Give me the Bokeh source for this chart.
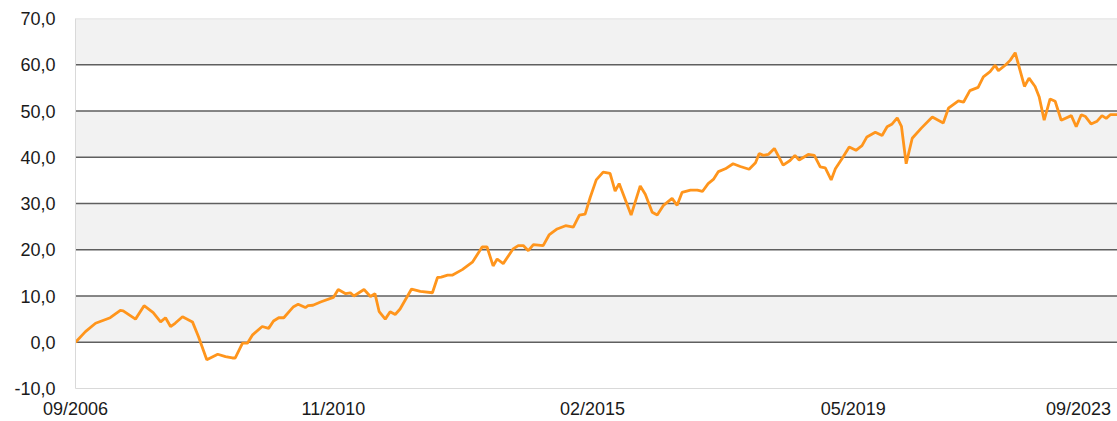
import pandas as pd
from bokeh.plotting import figure
from bokeh.models import FixedTicker, BoxAnnotation, Span, Range1d
from bokeh.embed import file_html
from bokeh.resources import INLINE

# ---- data ----
dates = [
    "2006-09-15", "2006-11-13", "2007-01-12", "2007-04-09", "2007-06-08", "2007-06-25",
    "2007-09-06", "2007-10-27", "2007-12-20", "2008-02-02", "2008-03-02", "2008-04-01",
    "2008-04-28", "2008-06-11", "2008-08-09", "2008-09-14", "2008-11-02", "2009-01-06",
    "2009-02-21", "2009-04-03", "2009-04-20", "2009-06-02", "2009-07-01", "2009-08-01",
    "2009-09-27", "2009-11-04", "2009-12-03", "2010-01-03", "2010-02-02", "2010-03-12",
    "2010-04-01", "2010-04-28", "2010-06-10", "2010-06-26", "2010-07-25", "2010-09-08",
    "2010-11-23", "2010-12-22", "2011-02-04", "2011-03-04", "2011-03-25", "2011-05-24",
    "2011-07-01", "2011-07-28", "2011-08-22", "2011-09-27", "2011-10-26", "2011-11-25",
    "2011-12-24", "2012-03-01", "2012-04-22", "2012-07-03", "2012-08-02", "2012-08-24",
    "2012-10-01", "2012-10-28", "2012-12-27", "2013-02-25", "2013-04-24", "2013-05-23",
    "2013-06-28", "2013-07-22", "2013-08-27", "2013-10-25", "2013-11-24", "2013-12-24",
    "2014-01-23", "2014-02-22", "2014-04-21", "2014-05-26", "2014-07-13", "2014-09-01",
    "2014-10-17", "2014-11-22", "2014-12-26", "2015-01-25", "2015-03-02", "2015-04-12",
    "2015-05-23", "2015-06-22", "2015-07-16", "2015-09-25", "2015-11-18", "2015-12-18",
    "2016-01-28", "2016-02-27", "2016-04-04", "2016-05-25", "2016-06-24", "2016-07-23",
    "2016-09-11", "2016-10-22", "2016-11-21", "2016-12-25", "2017-01-25", "2017-02-24",
    "2017-04-06", "2017-05-22", "2017-07-04", "2017-08-25", "2017-10-02", "2017-10-24",
    "2017-11-18", "2017-12-17", "2018-01-22", "2018-03-15", "2018-04-25", "2018-05-24",
    "2018-06-18", "2018-08-11", "2018-09-16", "2018-10-21", "2018-11-20", "2018-12-25",
    "2019-01-19", "2019-03-01", "2019-04-11", "2019-05-21", "2019-06-26", "2019-07-25",
    "2019-09-13", "2019-10-23", "2019-11-22", "2019-12-22", "2020-01-21", "2020-02-15",
    "2020-03-14", "2020-04-19", "2020-06-12", "2020-08-16", "2020-10-20", "2020-11-20",
    "2021-01-18", "2021-02-17", "2021-03-27", "2021-05-15", "2021-06-15", "2021-07-25",
    "2021-08-24", "2021-09-12", "2021-10-23", "2021-11-22", "2021-12-21", "2022-02-14",
    "2022-03-13", "2022-04-18", "2022-05-12", "2022-06-11", "2022-07-16", "2022-08-15",
    "2022-09-20", "2022-11-19", "2022-12-18", "2023-01-17", "2023-02-11", "2023-03-16",
    "2023-04-21", "2023-05-20", "2023-06-14", "2023-07-08", "2023-08-18",
]
values = [
    0.0, 2.3, 4.1, 5.3, 6.9, 6.8,
    5.0, 7.9, 6.4, 4.4, 5.3, 3.4,
    4.1, 5.5, 4.4, 1.2, -3.8, -2.6,
    -3.1, -3.4, -3.4, -0.2, -0.2, 1.6,
    3.4, 3.0, 4.6, 5.3, 5.3, 6.9,
    7.7, 8.2, 7.5, 7.9, 8.0, 8.7,
    9.7, 11.4, 10.5, 10.7, 10.0, 11.4,
    9.9, 10.5, 6.6, 5.0, 6.6, 6.0,
    7.2, 11.5, 11.0, 10.7, 14.0, 14.1,
    14.5, 14.5, 15.7, 17.3, 20.6, 20.6,
    16.5, 18.0, 17.0, 20.2, 20.9, 20.9,
    19.8, 21.1, 20.9, 23.2, 24.5, 25.2,
    24.9, 27.5, 27.7, 31.3, 35.1, 36.8,
    36.5, 32.7, 34.3, 27.5, 33.8, 32.0,
    28.1, 27.5, 29.6, 31.1, 29.6, 32.4,
    32.9, 32.9, 32.6, 34.3, 35.2, 36.9,
    37.5, 38.6, 38.0, 37.4, 38.8, 40.8,
    40.4, 40.6, 41.9, 38.3, 39.3, 40.4,
    39.4, 40.6, 40.4, 37.9, 37.7, 35.1,
    37.5, 39.8, 42.2, 41.5, 42.5, 44.4,
    45.4, 44.7, 46.6, 47.2, 48.5, 46.7,
    38.6, 44.1, 46.3, 48.7, 47.4, 50.6,
    52.2, 51.9, 54.4, 55.1, 57.4, 58.5,
    59.9, 58.7, 59.9, 61.0, 62.6, 55.3,
    57.1, 55.3, 53.1, 48.0, 52.6, 52.1,
    48.0, 49.0, 46.6, 49.2, 48.8, 47.2,
    47.8, 49.0, 48.4, 49.2, 49.2,
]
y_ticks = [-10, 0, 10, 20, 30, 40, 50, 60, 70]
y_tick_labels = ["-10,0", "0,0", "10,0", "20,0", "30,0", "40,0", "50,0", "60,0", "70,0"]
x_tick_dates = ["2006-09-15", "2010-11-23", "2015-02-08", "2019-05-05", "2023-01-01"]
x_tick_labels = ["09/2006", "11/2010", "02/2015", "05/2019", "09/2023"]
x_start, x_end = "2006-09-15", "2023-08-20"
gray_bands = [(0, 10), (20, 30), (40, 50), (60, 70)]
dark_grid = [0, 10, 20, 30, 40, 50, 60]

# ---- figure ----
xs = pd.to_datetime(dates)
p = figure(width=1117, height=421, x_axis_type="datetime",
           output_backend="svg", toolbar_location=None,
           x_range=Range1d(pd.Timestamp(x_start), pd.Timestamp(x_end)),
           y_range=Range1d(-10, 70),
           min_border_left=75, min_border_right=0, min_border_top=18, min_border_bottom=31)
p.outline_line_color = None
p.background_fill_color = "white"
p.xgrid.visible = False
p.ygrid.visible = False

for b, t in gray_bands:
    p.add_layout(BoxAnnotation(bottom=b, top=t, fill_color="#f2f2f2", fill_alpha=1,
                               line_color=None, level="underlay"))
for g in dark_grid:
    p.add_layout(Span(location=g, dimension="width", line_color="#5f5f5f",
                      line_width=1.3, level="underlay"))
p.add_layout(Span(location=70, dimension="width", line_color="#d9d9d9",
                  line_width=1.3, level="underlay"))

p.line(xs, values, line_color="#FF951C", line_width=2.8)

font = "Liberation Sans"
# y axis
p.yaxis.ticker = FixedTicker(ticks=y_ticks)
p.yaxis.major_label_overrides = {t: l for t, l in zip(y_ticks, y_tick_labels)}
p.yaxis.axis_line_color = "#d9d9d9"
p.yaxis.major_tick_line_color = None
p.yaxis.minor_tick_line_color = None
p.yaxis.major_tick_out = 0
p.yaxis.major_label_standoff = 20
p.yaxis.major_label_text_font = font
p.yaxis.major_label_text_font_size = "18px"
p.yaxis.major_label_text_color = "#1a1a1a"

# x axis
x_ms = [float(pd.Timestamp(d).value // 10**6) for d in x_tick_dates]
p.xaxis.ticker = FixedTicker(ticks=x_ms)
p.xaxis.major_label_overrides = {t: l for t, l in zip(x_ms, x_tick_labels)}
p.xaxis.axis_line_color = "#d9d9d9"
p.xaxis.major_tick_line_color = None
p.xaxis.minor_tick_line_color = None
p.xaxis.major_tick_out = 0
p.xaxis.major_label_standoff = 10
p.xaxis.major_label_text_font = font
p.xaxis.major_label_text_font_size = "18px"
p.xaxis.major_label_text_color = "#1a1a1a"

open("out.html", "w").write(file_html(p, INLINE))
